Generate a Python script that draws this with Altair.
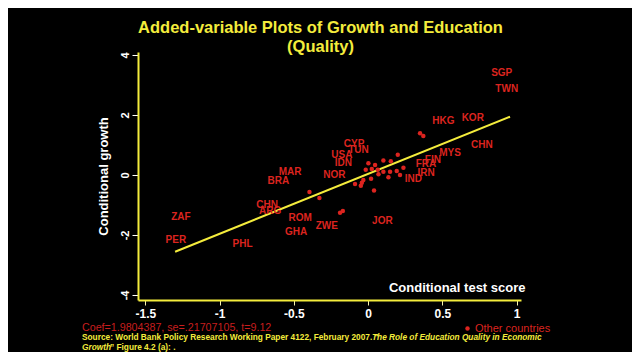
import altair as alt
import pandas as pd

# Labelled countries (added-variable coordinates)
codes = ["SGP", "TWN", "HKG", "KOR", "CHN", "MYS", "FIN", "FRA", "IRN", "IND",
         "CYP", "TUN", "USA", "IDN", "NOR", "MAR", "BRA", "CHN", "ARG", "ZAF",
         "PER", "PHL", "ROM", "GHA", "ZWE", "JOR"]
code_x = [0.90, 0.934, 0.507, 0.705, 0.766, 0.552, 0.436, 0.39, 0.39, 0.305,
          -0.094, -0.065, -0.177, -0.166, -0.227, -0.525, -0.604, -0.68, -0.66, -1.261,
          -1.295, -0.846, -0.458, -0.485, -0.278, 0.096]
code_y = [3.39, 2.86, 1.81, 1.89, 0.99, 0.72, 0.50, 0.37, 0.06, -0.14,
          1.02, 0.83, 0.67, 0.39, 0.0, 0.10, -0.19, -1.0, -1.2, -1.39,
          -2.17, -2.31, -1.42, -1.91, -1.69, -1.52]

# Other countries (dots)
dot_x = [0.002, 0.047, 0.103, 0.153, 0.2, -0.016, 0.025, 0.065, 0.103, 0.148,
         0.193, 0.238, 0.215, 0.137, 0.07, 0.02, -0.032, -0.042, -0.049, -0.088,
         0.04, -0.395, -0.328, 0.35, 0.372, -0.189, -0.17]
dot_y = [0.39, 0.33, 0.48, 0.46, 0.67, 0.17, 0.2, 0.17, 0.11, 0.11,
         0.13, 0.24, 0.0, -0.08, 0.02, -0.13, -0.17, -0.26, -0.36, -0.3,
         -0.52, -0.57, -0.77, 1.39, 1.3, -1.26, -1.2]

# Fitted line end points
line_x = [-1.30, 0.956]
line_y = [-2.56, 1.94]

x_ticks = [-1.5, -1, -0.5, 0, 0.5, 1]
y_ticks = [-4, -2, 0, 2, 4]

title_lines = ["Added-variable Plots of Growth and Education", "(Quality)"]
coef_text = "Coef=1.9804387, se=.21707105, t=9.12"
src1a = "Source: World Bank Policy Research Working Paper 4122, February 2007. \u201c"
src1b = "The Role of Education Quality in Economic"
src2a = "Growth"
src2b = "\u201d Figure 4.2 (a): ."

YEL = "#f4ec3c"
RED = "#dc241f"
DRED = "#c81e1e"
FONT = "Liberation Sans"

W, H = 383, 248

xs = alt.Scale(domain=[-1.55, 1.03], nice=False, zero=False)
ys = alt.Scale(domain=[-4.17, 4.1], nice=False, zero=False)

x_axis = alt.Axis(values=x_ticks, labelExpr="'' + datum.value", grid=False,
                  title="Conditional test score", titleX=387, titleY=-6,
                  titleAlign="right", titleBaseline="bottom", titleColor="white",
                  titleFontSize=13, titleFont=FONT, titleFontWeight="bold",
                  domainColor=YEL, domainWidth=2, tickColor="#f8f4b0", tickSize=5,
                  labelColor="white", labelFontSize=12, labelFont=FONT,
                  labelFontWeight="bold", labelPadding=3)
y_axis = alt.Axis(values=y_ticks, labelExpr="'' + datum.value", grid=False,
                  labelAngle=270, labelAlign="center", labelBaseline="bottom",
                  title="Conditional growth", titleAngle=270, titleX=-35, titleY=H / 2,
                  titleAlign="center", titleBaseline="middle", titleColor="white",
                  titleFontSize=13, titleFont=FONT, titleFontWeight="bold",
                  domainColor=YEL, domainWidth=2, tickColor="white", tickSize=6,
                  labelColor="white", labelFontSize=11, labelFont=FONT,
                  labelFontWeight="bold", labelPadding=2)

xenc = alt.X("x:Q", scale=xs, axis=x_axis)
yenc = alt.Y("y:Q", scale=ys, axis=y_axis)

lab_df = pd.DataFrame({"x": code_x, "y": code_y, "code": codes})
dot_df = pd.DataFrame({"x": dot_x, "y": dot_y, "grp": ["Other countries"] * len(dot_x)})
line_df = pd.DataFrame({"x": line_x, "y": line_y})

labels = alt.Chart(lab_df).mark_text(
    font=FONT, fontWeight="bold", fontSize=10, color=RED, baseline="middle", align="center"
).encode(x=xenc, y=yenc, text="code:N")

dots = alt.Chart(dot_df).mark_point(filled=True, size=20, opacity=1).encode(
    x=xenc, y=yenc,
    color=alt.Color("grp:N", scale=alt.Scale(domain=["Other countries"], range=[RED]),
                    legend=alt.Legend(title=None, orient="none", legendX=324, legendY=271,
                                      symbolType="circle", symbolSize=20, labelColor=RED,
                                      labelFontSize=11, labelFont=FONT, padding=0,
                                      labelOffset=2)))

fit = alt.Chart(line_df).mark_line(color=YEL, strokeWidth=2).encode(x=xenc, y=yenc)


def note(txt, px, py, color, size, weight="normal", style="normal"):
    return alt.Chart(pd.DataFrame({"t": [txt]})).mark_text(
        align="left", baseline="middle", color=color, fontSize=size, font=FONT,
        fontWeight=weight, fontStyle=style
    ).encode(x=alt.value(px), y=alt.value(py), text="t:N")


notes = [
    note(coef_text, -56, 276, DRED, 10.7),
    note(src1a, -56, 286, YEL, 8.3, "bold"),
    note(src1b, 234, 286, YEL, 8.3, "bold", "italic"),
    note(src2a, -56, 295.5, YEL, 8.3, "bold", "italic"),
    note(src2b, -28, 295.5, YEL, 8.3, "bold"),
]

chart = alt.layer(fit, dots, labels, *notes).properties(
    width=W, height=H,
    title=alt.Title(title_lines, color=YEL, fontSize=16.5, font=FONT, fontWeight="bold",
                    anchor="middle", dx=-9, dy=8, offset=4, lineHeight=19),
    padding={"left": 130, "top": 44, "right": 111, "bottom": 52},
    autosize="none",
    background="black",
).configure_view(stroke=None)

chart.save("out.html", embed_options={"renderer": "svg", "actions": False})
